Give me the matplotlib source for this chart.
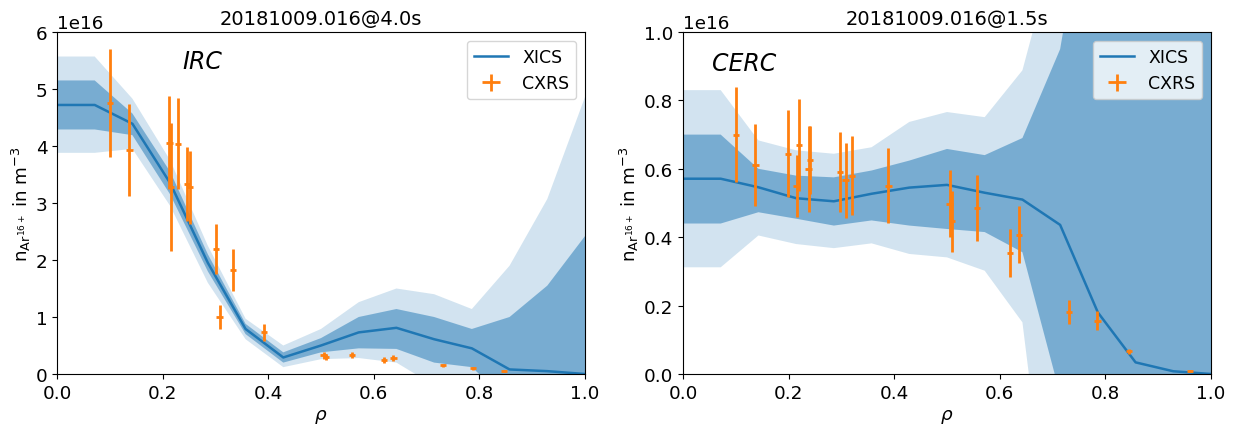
import numpy as np
import matplotlib.pyplot as plt

plt.rcParams['font.size'] = 13.2

rho = np.linspace(0, 1, 15)

# left panel (4.0 s), units of 1e16 m^-3
irc_mid = [4.72, 4.72, 4.39, 3.35, 1.95, 0.79, 0.29, 0.50, 0.73, 0.81, 0.61, 0.45, 0.08, 0.05, 0.0]
irc_hi1 = [5.15, 5.15, 4.57, 3.55, 2.10, 0.88, 0.38, 0.63, 1.00, 1.14, 1.00, 0.79, 1.00, 1.55, 2.42]
irc_lo1 = [4.29, 4.29, 4.19, 3.15, 1.80, 0.70, 0.20, 0.38, 0.45, 0.44, 0.20, 0.12, -0.5, -1.5, -2.4]
irc_hi2 = [5.57, 5.57, 4.83, 3.75, 2.25, 0.97, 0.50, 0.79, 1.26, 1.50, 1.40, 1.14, 1.90, 3.07, 4.86]
irc_lo2 = [3.88, 3.88, 3.95, 2.95, 1.60, 0.61, 0.12, 0.26, 0.28, 0.20, -0.2, -0.6, -1.9, -3.0, -4.8]

irc_cx_rho = [0.100, 0.137, 0.213, 0.216, 0.229, 0.246, 0.252, 0.301, 0.308, 0.333, 0.392,
              0.505, 0.509, 0.559, 0.619, 0.637, 0.731, 0.788, 0.846]
irc_cx_val = [4.76, 3.93, 4.06, 3.28, 4.04, 3.34, 3.28, 2.20, 1.00, 1.83, 0.73,
              0.33, 0.30, 0.33, 0.25, 0.28, 0.15, 0.10, 0.05]
irc_cx_err = [0.95, 0.80, 0.81, 1.12, 0.80, 0.65, 0.64, 0.44, 0.21, 0.37, 0.15,
              0.06, 0.05, 0.05, 0.05, 0.05, 0.03, 0.03, 0.02]

# right panel (1.5 s)
cerc_mid = [0.571, 0.571, 0.546, 0.514, 0.505, 0.527, 0.545, 0.553, 0.530, 0.510, 0.436, 0.180, 0.034, 0.008, 0.0]
cerc_hi1 = [0.700, 0.700, 0.600, 0.580, 0.575, 0.595, 0.624, 0.658, 0.640, 0.690, 0.950, 1.6, 2.2, 2.8, 3.4]
cerc_lo1 = [0.440, 0.440, 0.473, 0.454, 0.434, 0.449, 0.434, 0.424, 0.415, 0.356, -0.06, -1.2, -2.2, -2.8, -3.4]
cerc_hi2 = [0.830, 0.830, 0.683, 0.654, 0.644, 0.663, 0.737, 0.766, 0.751, 0.888, 1.30, 2.2, 3.0, 3.6, 4.2]
cerc_lo2 = [0.312, 0.312, 0.405, 0.380, 0.368, 0.382, 0.351, 0.341, 0.302, 0.151, -0.74, -1.8, -3.0, -3.6, -4.2]

cerc_cx_rho = [0.100, 0.137, 0.199, 0.215, 0.220, 0.238, 0.241, 0.297, 0.308, 0.320, 0.389,
               0.505, 0.510, 0.557, 0.619, 0.636, 0.731, 0.785, 0.845, 0.960]
cerc_cx_val = [0.700, 0.610, 0.644, 0.550, 0.670, 0.600, 0.625, 0.590, 0.566, 0.580, 0.551,
               0.498, 0.446, 0.486, 0.354, 0.407, 0.180, 0.156, 0.066, 0.010]
cerc_cx_err = [0.140, 0.120, 0.127, 0.090, 0.135, 0.125, 0.100, 0.117, 0.110, 0.115, 0.110,
               0.098, 0.090, 0.097, 0.070, 0.083, 0.035, 0.027, 0.008, 0.003]

fig = plt.figure(figsize=(12.34, 4.27), dpi=100)
ax1 = fig.add_axes([57 / 1234, 1 - 375 / 427, 528 / 1234, 342 / 427])
ax2 = fig.add_axes([683 / 1234, 1 - 375 / 427, 528 / 1234, 342 / 427])

panels = [
    (ax1, irc_mid, irc_hi1, irc_lo1, irc_hi2, irc_lo2, irc_cx_rho, irc_cx_val, irc_cx_err,
     "20181009.016@4.0s", 6e16, "IRC", (0.237, 5.49e16)),
    (ax2, cerc_mid, cerc_hi1, cerc_lo1, cerc_hi2, cerc_lo2, cerc_cx_rho, cerc_cx_val, cerc_cx_err,
     "20181009.016@1.5s", 1e16, "CERC", (0.055, 0.91e16)),
]

for ax, mid, hi1, lo1, hi2, lo2, cr, cv, ce, title, ymax, label, pos in panels:
    s = 1e16
    ax.fill_between(rho, np.array(lo2) * s, np.array(hi2) * s, color='C0', alpha=0.2, lw=0)
    ax.fill_between(rho, np.array(lo1) * s, np.array(hi1) * s, color='C0', alpha=0.5, lw=0)
    ax.plot(rho, np.array(mid) * s, color='C0', lw=1.8, label='XICS')
    ax.errorbar(cr, np.array(cv) * s, yerr=np.array(ce) * s, xerr=0.006,
                fmt='none', ecolor='C1', elinewidth=2, label='CXRS')
    ax.set_xlim(0, 1)
    ax.set_ylim(0, ymax)
    ax.set_title(title, fontsize=14)
    ax.set_xlabel(r'$\rho$')
    ax.set_ylabel(r'n$_{\mathrm{Ar}^{16+}}$ in m$^{-3}$', labelpad=2)
    ax.text(pos[0], pos[1], label, fontsize=17, style='italic', va='center')
    ax.legend(loc='upper right', fontsize=12.5)

fig.savefig('out.png', dpi=100)
